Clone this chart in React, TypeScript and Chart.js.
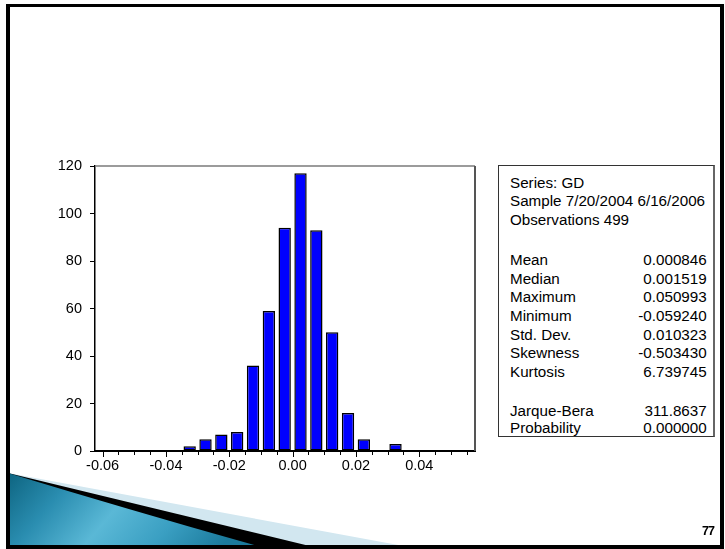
import React, { useEffect, useRef } from "react";
import { Chart, registerables } from "chart.js";

Chart.register(...registerables);

// ---- data ----
const binCenters = [-0.0325, -0.0275, -0.0225, -0.0175, -0.0125, -0.0075, -0.0025, 0.0025, 0.0075, 0.0125, 0.0175, 0.0225, 0.0325];
const binCounts = [2, 5, 7, 8, 36, 59, 94, 117, 93, 50, 16, 5, 3];
const xMajorTicks = [-0.06, -0.04, -0.02, 0, 0.02, 0.04];
const xMinorStep = 0.005;
const xAxisMin = -0.0624;
const xAxisMax = 0.0576;
const yTicks = [0, 20, 40, 60, 80, 100, 120];

const headerLines = ["Series: GD", "Sample 7/20/2004 6/16/2006", "Observations 499"];
const statNames = ["Mean", "Median", "Maximum", "Minimum", "Std. Dev.", "Skewness", "Kurtosis"];
const statValues = ["0.000846", "0.001519", "0.050993", "-0.059240", "0.010323", "-0.503430", "6.739745"];
const testNames = ["Jarque-Bera", "Probability"];
const testValues = ["311.8637", "0.000000"];
const pageNumber = "77";

const FONT = "'Liberation Sans', Arial, Helvetica, sans-serif";

const isMajor = (v: number) => xMajorTicks.some((m) => Math.abs(m - v) < 1e-9);

const framePlugin = {
  id: "frameAndTicks",
  afterDraw(chart: any) {
    const { ctx, chartArea: a, scales } = chart;
    ctx.save();
    ctx.strokeStyle = "#7a7a7a";
    ctx.lineWidth = 1.5;
    ctx.beginPath();
    ctx.moveTo(a.left, a.top);
    ctx.lineTo(a.right, a.top);
    ctx.stroke();
    ctx.strokeStyle = "#555";
    ctx.lineWidth = 2;
    ctx.beginPath();
    ctx.moveTo(a.right, a.top);
    ctx.lineTo(a.right, a.bottom);
    ctx.stroke();
    const xs = scales.x;
    ctx.strokeStyle = "#000";
    ctx.lineWidth = 1;
    xs.ticks.forEach((t: any) => {
      const px = Math.round(xs.getPixelForValue(t.value)) + 0.5;
      ctx.beginPath();
      ctx.moveTo(px, a.bottom);
      ctx.lineTo(px, a.bottom + (isMajor(t.value) ? 6 : 4));
      ctx.stroke();
    });
    ctx.restore();
  },
};

function HistChart() {
  const ref = useRef<HTMLCanvasElement | null>(null);
  useEffect(() => {
    if (!ref.current) return;
    const minorTicks: number[] = [];
    const kStart = Math.ceil(xAxisMin / xMinorStep - 1e-9);
    const kEnd = Math.floor(xAxisMax / xMinorStep + 1e-9);
    for (let k = kStart; k <= kEnd; k++) minorTicks.push(+(k * xMinorStep).toFixed(4));

    const chart = new Chart(ref.current, {
      type: "bar",
      data: {
        datasets: [
          {
            data: binCenters.map((x, i) => ({ x, y: binCounts[i] })),
            backgroundColor: "#0000ff",
            borderColor: "#000",
            borderWidth: 1.5,
            borderSkipped: false,
            categoryPercentage: 1,
            barPercentage: 0.78,
          },
        ],
      },
      options: {
        animation: false,
        responsive: false,
        events: [],
        layout: { padding: { left: 0, top: 166, right: 250, bottom: 68 } },
        plugins: { legend: { display: false }, tooltip: { enabled: false } },
        scales: {
          x: {
            type: "linear",
            min: xAxisMin,
            max: xAxisMax,
            offset: false,
            afterBuildTicks: (scale: any) => {
              scale.ticks = minorTicks.map((v) => ({ value: v }));
            },
            afterFit: (scale: any) => {
              scale.height = 30;
            },
            grid: { display: false, drawTicks: false },
            border: { display: true, color: "#000", width: 2 },
            ticks: {
              autoSkip: false,
              maxRotation: 0,
              minRotation: 0,
              padding: 6,
              color: "#000",
              font: { family: FONT, size: 14.5 },
              callback: (v: any) => {
                const n = Number(v);
                const m = xMajorTicks.find((t) => Math.abs(t - n) < 1e-9);
                return m === undefined ? "" : m.toFixed(2);
              },
            },
          },
          y: {
            type: "linear",
            min: 0,
            max: 120,
            afterBuildTicks: (scale: any) => {
              scale.ticks = yTicks.map((v) => ({ value: v }));
            },
            afterFit: (scale: any) => {
              scale.width = 95;
            },
            grid: {
              drawOnChartArea: false,
              drawTicks: true,
              tickLength: 5,
              color: "#000",
              tickColor: "#000",
              tickWidth: 1,
            },
            border: { display: true, color: "#000", width: 1.5 },
            ticks: {
              padding: 8,
              color: "#000",
              font: { family: FONT, size: 14.5 },
              callback: (v: any) => String(v),
            },
          },
        },
      },
      plugins: [framePlugin],
    } as any);
    return () => chart.destroy();
  }, []);
  return (
    <canvas
      ref={ref}
      width={725}
      height={549}
      style={{ position: "absolute", left: 0, top: 0, width: 725, height: 549 }}
    />
  );
}

function StatsBox() {
  const row: React.CSSProperties = { display: "flex", justifyContent: "space-between", whiteSpace: "nowrap" };
  return (
    <div
      style={{
        position: "absolute",
        left: 498,
        top: 165,
        width: 217,
        height: 272,
        boxSizing: "border-box",
        border: "1px solid #333",
        borderRight: "2px solid #666",
        background: "#fff",
        fontFamily: FONT,
        fontSize: 15.2,
        color: "#000",
      }}
    >
      <div style={{ position: "absolute", left: 11, top: 7.7, lineHeight: "18.5px" }}>
        {headerLines.map((l) => (
          <div key={l} style={{ whiteSpace: "nowrap" }}>{l}</div>
        ))}
      </div>
      <div style={{ position: "absolute", left: 11, right: 6.3, top: 85.2, lineHeight: "18.6px" }}>
        {statNames.map((n, i) => (
          <div key={n} style={row}>
            <span>{n}</span>
            <span>{statValues[i]}</span>
          </div>
        ))}
      </div>
      <div style={{ position: "absolute", left: 11, right: 6.3, top: 235.5, lineHeight: "17.5px" }}>
        {testNames.map((n, i) => (
          <div key={n} style={row}>
            <span>{n}</span>
            <span>{testValues[i]}</span>
          </div>
        ))}
      </div>
    </div>
  );
}

function Swoosh() {
  return (
    <svg width={725} height={549} style={{ position: "absolute", left: 0, top: 0 }}>
      <defs>
        <linearGradient id="tealGrad" x1="0" y1="0" x2="1" y2="0.25">
          <stop offset="0" stopColor="#0d6480" />
          <stop offset="0.25" stopColor="#2a8db0" />
          <stop offset="0.5" stopColor="#5ab8d6" />
          <stop offset="0.75" stopColor="#3a9fc2" />
          <stop offset="1" stopColor="#1b7a9c" />
        </linearGradient>
      </defs>
      <polygon points="8,473 420,549 8,549" fill="#d2e7f0" />
      <polygon points="8,473 322,549 8,549" fill="#000" />
      <path d="M8,473 Q140,513 268,549 L8,549 Z" fill="url(#tealGrad)" />
    </svg>
  );
}

export default function App() {
  return (
    <div style={{ position: "absolute", left: 0, top: 0, width: 725, height: 549, background: "#fff", overflow: "hidden" }}>
      <Swoosh />
      <HistChart />
      <StatsBox />
      <div
        style={{
          position: "absolute",
          left: 702,
          top: 524,
          fontFamily: FONT,
          fontWeight: "bold",
          fontSize: 12.5,
          lineHeight: "14px",
          letterSpacing: "-1px",
          color: "#000",
        }}
      >
        {pageNumber}
      </div>
      <div
        style={{
          position: "absolute",
          left: 6,
          top: 4,
          width: 718,
          height: 545,
          boxSizing: "border-box",
          border: "4px solid #000",
          borderTopWidth: 3,
          pointerEvents: "none",
        }}
      />
    </div>
  );
}
